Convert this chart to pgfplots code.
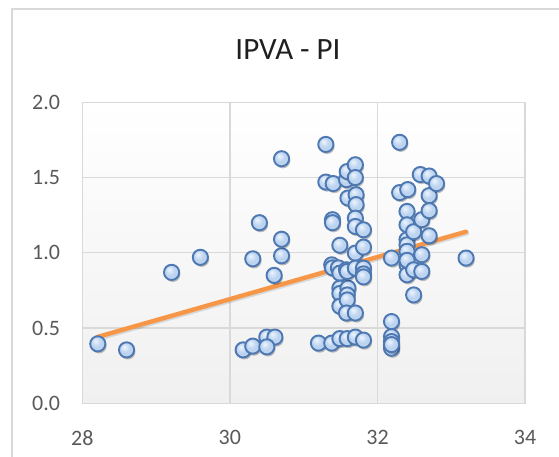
\documentclass[border=0pt]{standalone}
\usepackage{pgfplots}
\pgfplotsset{compat=1.18}
\usepackage{fontspec}
\setmainfont{Carlito}
\definecolor{mkhi}{HTML}{EEF5FD}
\definecolor{mkfill}{HTML}{BDD4F1}
\definecolor{mkfill2}{HTML}{93B4E0}
\definecolor{mkedge}{HTML}{4D78B2}
\definecolor{gridc}{HTML}{D9D9D9}
\definecolor{labc}{HTML}{595959}
\definecolor{trend}{HTML}{F79646}
\definecolor{bgbot}{HTML}{F0F0F0}
\pgfdeclareradialshading{mkball}{\pgfpoint{-8bp}{10bp}}{color(0bp)=(mkhi); color(16bp)=(mkfill); color(34bp)=(mkfill); color(50bp)=(mkfill2)}
\pgfdeclareplotmark{ball}{%
  \begin{pgfscope}
  \pgfsetfillcolor{black}\pgfsetfillopacity{0.25}%
  \pgfpathcircle{\pgfpoint{1.2pt}{-2pt}}{\pgfplotmarksize}\pgfusepath{fill}%
  \end{pgfscope}
  \begin{pgfscope}
  \pgfpathcircle{\pgfpointorigin}{\pgfplotmarksize}%
  \pgfshadepath{mkball}{0}%
  \end{pgfscope}
  \pgfsetstrokecolor{mkedge}\pgfsetlinewidth{1.9pt}%
  \pgfpathcircle{\pgfpointorigin}{\pgfplotmarksize}\pgfusepath{stroke}%
}
\pgfplotstableread{
x y
28.21 0.395
28.60 0.355
29.21 0.87
29.60 0.97
30.18 0.355
30.31 0.38
30.50 0.44
30.61 0.44
30.50 0.375
30.31 0.96
30.40 1.20
30.60 0.85
30.70 0.98
30.70 1.09
30.70 1.625
31.20 0.40
31.30 1.72
31.30 1.47
31.40 1.46
31.38 0.40
31.39 1.22
31.39 1.20
31.38 0.92
31.39 0.90
31.47 0.90
31.49 0.865
31.49 1.05
31.49 0.765
31.49 0.73
31.49 0.645
31.49 0.43
31.58 0.887
31.58 1.486
31.59 1.54
31.60 1.364
31.60 0.765
31.59 0.72
31.59 0.687
31.58 0.60
31.59 0.43
31.59 0.876
31.70 1.585
31.70 1.50
31.71 1.386
31.71 1.32
31.70 1.23
31.70 1.175
31.70 0.998
31.70 0.898
31.70 0.60
31.70 0.44
31.81 1.153
31.81 1.038
31.81 0.898
31.81 0.86
31.81 0.84
31.81 0.42
32.19 0.965
32.19 0.543
32.19 0.443
32.19 0.41
32.19 0.38
32.19 0.366
32.19 0.39
32.30 1.734
32.30 1.40
32.41 1.42
32.40 1.275
32.40 1.186
32.40 1.087
32.40 1.053
32.40 1.01
32.40 0.92
32.40 0.854
32.40 0.95
32.49 1.14
32.49 0.887
32.49 0.72
32.58 1.52
32.60 1.22
32.60 0.987
32.60 0.876
32.70 1.51
32.70 1.38
32.70 1.28
32.70 1.113
32.80 1.46
33.20 0.965
}\datatable
\begin{document}
\begin{tikzpicture}
\useasboundingbox (0,0) rectangle (559pt,457pt);
\draw[gridc, line width=1.2pt] (12pt,0pt) -- (12pt,448pt) -- (559pt,448pt);
\node[anchor=base, font=\fontsize{31}{36}\selectfont, text=black!88] at (288pt,397pt) {IPVA - PI};
\begin{axis}[
  at={(82.3pt,53.7pt)}, anchor=south west,
  width=442.8pt, height=301pt, scale only axis,
  xmin=28, xmax=34, ymin=0, ymax=2,
  xtick={28,30,32,34}, ytick={0,0.5,1,1.5,2},
  grid=major,
  major grid style={draw=gridc, line width=1.3pt},
  axis line style={draw=gridc, line width=1.5pt},
  major tick length=0pt,
  axis background/.style={top color=white, bottom color=bgbot},
  /pgf/number format/assume math mode=true,
  tick label style={font=\fontsize{22}{26}\selectfont, text=labc, inner sep=0pt},
  yticklabel style={/pgf/number format/fixed, /pgf/number format/fixed zerofill, /pgf/number format/precision=1, anchor=east, xshift=-22pt},
  xticklabel style={anchor=north, yshift=-27pt},
  clip=false,
]
\addplot[only marks, mark=ball, mark size=7.6pt] table[x=x,y=y] {\datatable};
\addplot[black, opacity=0.12, line width=4.5pt, line cap=round, xshift=1pt, yshift=-1.5pt] coordinates {(28.2,0.44) (33.2,1.14)};
\addplot[trend, line width=4.4pt, line cap=round] coordinates {(28.2,0.44) (33.2,1.14)};
\end{axis}
\end{tikzpicture}
\end{document}
